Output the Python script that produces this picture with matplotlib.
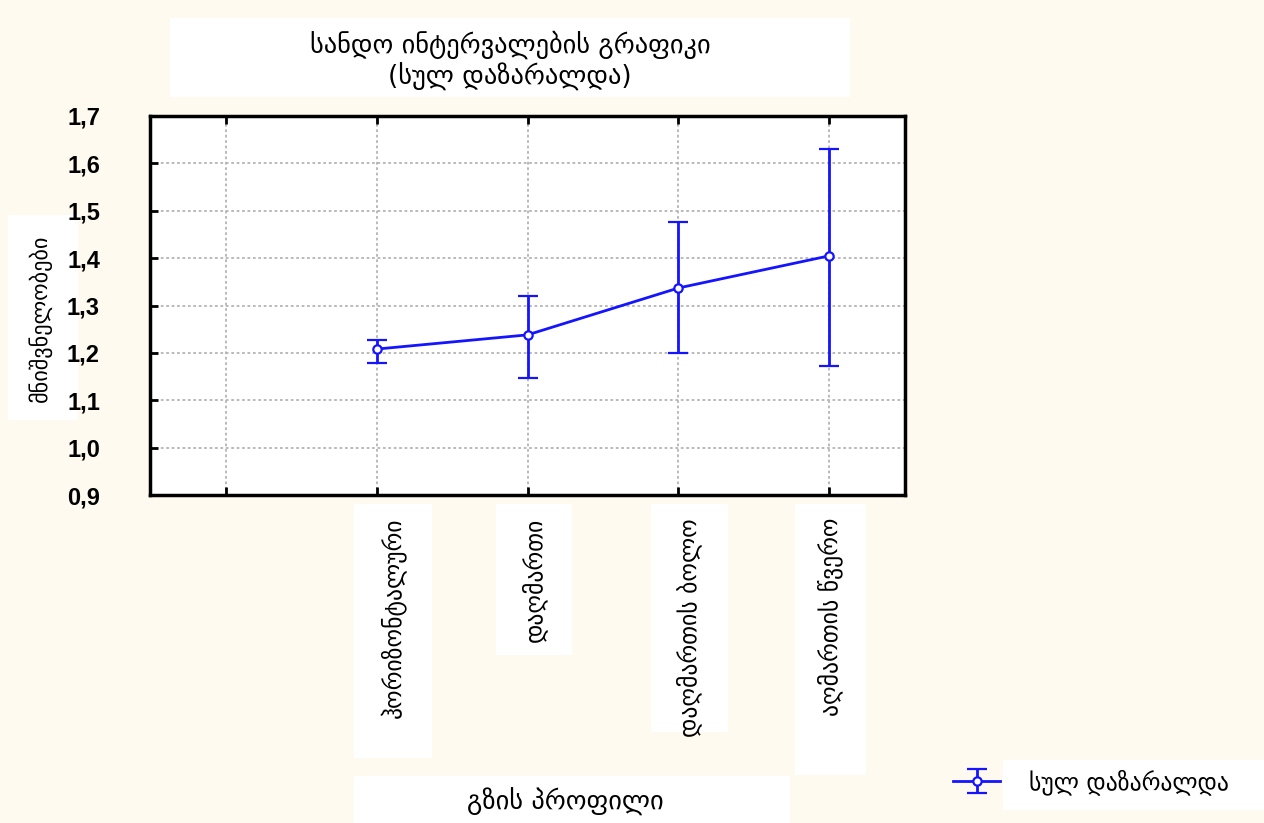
import matplotlib.pyplot as plt
from matplotlib.patches import Rectangle
from matplotlib.ticker import FuncFormatter

# data
categories = ['ჰორიზონტალური', 'დაღმართი', 'დაღმართის ბოლო', 'აღმართის წვერო']
means = [1.208, 1.238, 1.337, 1.405]
upper = [1.227, 1.320, 1.476, 1.631]
lower = [1.179, 1.147, 1.200, 1.172]
yticks = [0.9, 1.0, 1.1, 1.2, 1.3, 1.4, 1.5, 1.6, 1.7]

title1 = 'სანდო ინტერვალების გრაფიკი'
title2 = '(სულ დაზარალდა)'
ylabel = 'მნიშვნელობები'
xlabel = 'გზის პროფილი'
series_name = 'სულ დაზარალდა'

BG = '#fffaf0'
BLUE = '#1414ff'
GEO = ['DejaVu Sans']

fig = plt.figure(figsize=(12.64, 8.23), dpi=100, facecolor=BG)
W, H = 1264, 823

def box(x0, y0, x1, y1):
    # white rectangle in pixel coords (top-left origin)
    fig.patches.append(Rectangle((x0 / W, 1 - y1 / H), (x1 - x0) / W, (y1 - y0) / H,
                                 transform=fig.transFigure, facecolor='white',
                                 edgecolor='none', zorder=-1))

ax = fig.add_axes([150 / W, 1 - 495 / H, 755 / W, 379 / H])

x = list(range(1, len(categories) + 1))
yerr = [[m - l for m, l in zip(means, lower)], [u - m for u, m in zip(upper, means)]]
eb = ax.errorbar(x, means, yerr=yerr, color=BLUE, lw=2, elinewidth=2, capsize=7,
                 capthick=2, marker='o', ms=6, mfc='white', mec=BLUE, mew=1.6,
                 label=series_name, zorder=3)

ax.set_xlim(-0.5, 4.5)
ax.set_ylim(0.9, 1.7)
ax.set_yticks(yticks)
ax.yaxis.set_major_formatter(FuncFormatter(lambda v, p: f'{v:.1f}'.replace('.', ',')))
ax.set_xticks(range(0, 5))
ax.set_xticklabels([])
ax.grid(True, color='#b4b4b4', ls=(0, (1.5, 1.5)), lw=1.3)
for s in ax.spines.values():
    s.set_linewidth(2.5)
ax.tick_params(axis='y', direction='in', length=6, width=2, pad=36, labelsize=17)
ax.tick_params(axis='x', direction='in', length=6, width=2, top=True)
for t in ax.get_yticklabels():
    t.set_fontfamily('Liberation Sans')
    t.set_fontweight('bold')

# title
box(170, 18, 850, 97)
fig.text(510 / W, 1 - 45 / H, title1, ha='center', va='center', fontsize=19, family=GEO)
fig.text(510 / W, 1 - 77 / H, title2, ha='center', va='center', fontsize=19, family=GEO)

# y label
box(8, 215, 78, 420)
fig.text(40 / W, 1 - 318 / H, ylabel, ha='center', va='center', rotation=90,
         fontsize=16, family=GEO)

# category labels
label_boxes = [(354, 432, 758), (496, 572, 655), (651, 728, 732), (795, 866, 775)]
for (x0, x1, y1), lab in zip(label_boxes, categories):
    box(x0, 504, x1, y1)
    fig.text((x0 + x1) / 2 / W, 1 - 518 / H, lab, ha='center', va='top', rotation=90,
             fontsize=17, family=GEO)

# x label
box(354, 776, 790, 823)
fig.text(565 / W, 1 - 802 / H, xlabel, ha='center', va='center', fontsize=19, family=GEO)

# legend
box(1003, 760, 1264, 810)
leg = fig.legend(handles=[eb], labels=[series_name], loc='center left',
                 bbox_to_anchor=(932 / W, 1 - 782 / H), frameon=False,
                 prop={'family': GEO, 'size': 17}, handlelength=2.0, handletextpad=1.2)

fig.savefig('out.png', dpi=100, facecolor=BG)
